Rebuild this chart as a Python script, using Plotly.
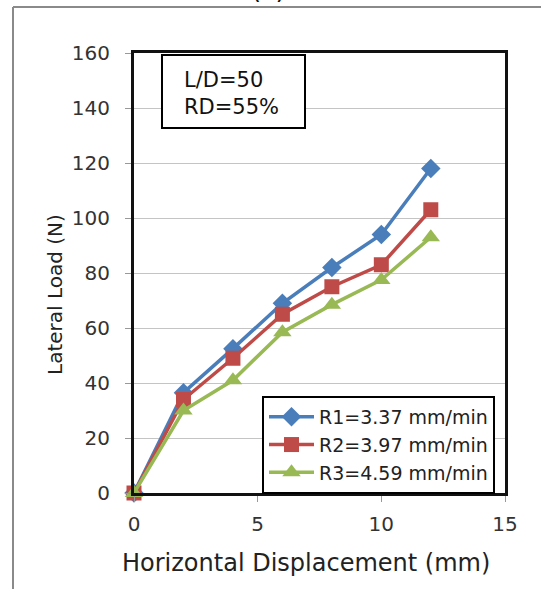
import plotly.graph_objects as go

# Lateral load vs. horizontal displacement at three loading rates
displacement = [0, 2, 4, 6, 8, 10, 12]
load_r1 = [0, 36.5, 52.5, 69, 82, 94, 118]
load_r2 = [0, 34, 49, 65, 75, 83, 103]
load_r3 = [0, 30, 41, 58.5, 68.5, 77.5, 93]

series_names = ["R1=3.37 mm/min", "R2=3.97 mm/min", "R3=4.59 mm/min"]
series_colors = ["#4A7EBB", "#BE4B48", "#98B954"]
series_symbols = ["diamond", "square", "triangle-up"]
series_sizes = [15, 15, 16]

x_ticks = [0, 5, 10, 15]
y_ticks = [0, 20, 40, 60, 80, 100, 120, 140, 160]

FONT = "DejaVu Sans"
W, H = 541, 589
L, R, T, B = 134, 36, 53, 96

fig = go.Figure()
for ys, name, col, sym, sz in zip([load_r1, load_r2, load_r3], series_names,
                                  series_colors, series_symbols, series_sizes):
    fig.add_trace(go.Scatter(
        x=displacement, y=ys, name=name, mode="lines+markers",
        line=dict(color=col, width=3.5),
        marker=dict(symbol=sym, size=sz, color=col, line=dict(width=0)),
        cliponaxis=False,
    ))

pw = W - L - R
ph = H - T - B


def px_x(p):
    return (p - L) / pw


def px_y(p):
    return (H - B - p) / ph


shapes = [
    # outer figure frame (top and left edges)
    dict(type="line", xref="paper", yref="paper",
         x0=px_x(13), x1=px_x(560), y0=px_y(7), y1=px_y(7),
         line=dict(color="#8a8a8a", width=2)),
    dict(type="line", xref="paper", yref="paper",
         x0=px_x(13), x1=px_x(13), y0=px_y(7), y1=px_y(600),
         line=dict(color="#8a8a8a", width=2)),
    # parameter box
    dict(type="rect", xref="paper", yref="paper",
         x0=px_x(162), x1=px_x(305), y0=px_y(128), y1=px_y(55),
         line=dict(color="black", width=2), fillcolor="white", layer="above"),
]

annotations = [
    dict(xref="paper", yref="paper", x=px_x(182), y=px_y(93.5),
         xanchor="left", yanchor="middle", align="left", showarrow=False,
         text="L/D=50<br>RD=55%", font=dict(family=FONT, size=21, color="#111")),
    dict(xref="paper", yref="paper", x=px_x(268), y=px_y(-11),
         xanchor="center", yanchor="middle", showarrow=False,
         text="(c)", font=dict(family=FONT, size=26, color="#111")),
    # axis titles
    dict(xref="paper", yref="paper", x=px_x(306), y=px_y(563),
         xanchor="center", yanchor="middle", showarrow=False,
         text="Horizontal Displacement (mm)",
         font=dict(family=FONT, size=24, color="#222")),
    dict(xref="paper", yref="paper", x=px_x(55), y=px_y(295),
         xanchor="center", yanchor="middle", showarrow=False, textangle=-90,
         text="Lateral Load (N)",
         font=dict(family=FONT, size=20, color="#222")),
]

fig.update_layout(
    width=W, height=H,
    margin=dict(l=L, r=R, t=T, b=B),
    paper_bgcolor="white", plot_bgcolor="white",
    font=dict(family=FONT, color="#222"),
    showlegend=True,
    legend=dict(
        x=px_x(495), y=px_y(396), xanchor="right", yanchor="top",
        bgcolor="white", bordercolor="black", borderwidth=2,
        font=dict(family=FONT, size=19, color="#222"),
        itemwidth=45, tracegroupgap=0,
    ),
    shapes=shapes,
    annotations=annotations,
)

fig.update_xaxes(
    range=[0, 15], tickvals=x_ticks, showgrid=False, zeroline=False,
    showline=True, mirror=True, linecolor="#111", linewidth=3,
    ticks="outside", ticklen=6, tickcolor="#999", tickwidth=1,
    ticklabelstandoff=5,
    tickfont=dict(family=FONT, size=20, color="#333"),
)
fig.update_yaxes(
    range=[0, 160], tickvals=y_ticks, showgrid=True, gridcolor="#c4c4c4",
    gridwidth=1, zeroline=False,
    showline=True, mirror=True, linecolor="#111", linewidth=3,
    ticks="outside", ticklen=6, tickcolor="#999", tickwidth=1,
    ticklabelstandoff=11,
    tickfont=dict(family=FONT, size=20, color="#333"),
)

fig.write_html("out.html")
